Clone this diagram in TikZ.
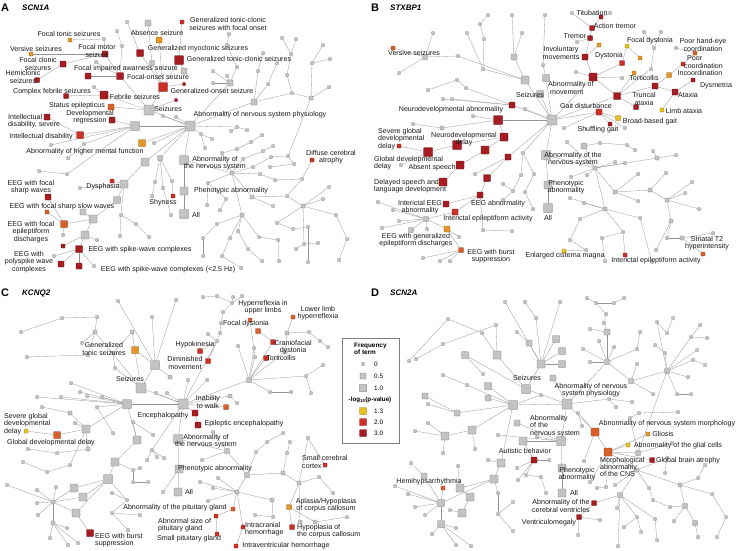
\documentclass[tikz,border=0pt]{standalone}
\usepackage{fontspec}
\setmainfont{Liberation Sans}
\usetikzlibrary{backgrounds}
\definecolor{cg}{HTML}{C3C3C3}
\definecolor{cy}{HTML}{E8C021}
\definecolor{co}{HTML}{E3962A}
\definecolor{cp}{HTML}{D8602A}
\definecolor{cr}{HTML}{CC3027}
\definecolor{cd}{HTML}{A51D23}
\begin{document}
\begin{tikzpicture}[x=1pt,y=-1pt,
  nd/.style 2 args={rectangle,rounded corners=0.5pt,inner sep=0pt,minimum size=#2pt,fill=#1,draw=#1!60!black,line width=0.3pt},
  ed/.style={draw=black!42,line width=0.3pt},
  lb/.style={font=\fontsize{7.1}{7.4}\selectfont,inner sep=0pt,align=center,text=black!90},
  lbl/.style={lb,align=left,anchor=west},
  ttl/.style={font=\fontsize{11}{11}\selectfont\bfseries,inner sep=0pt},
  gene/.style={font=\fontsize{8}{8}\selectfont\bfseries\itshape,inner sep=0pt,anchor=west},
  lg/.style={font=\fontsize{6.4}{7.2}\selectfont,inner sep=0pt}]
\useasboundingbox (0,0) rectangle (740,550);

% ---------------- titles
\node[ttl] (tA) at (5,8) {A};   \node[gene] (gA) at (22,8) {SCN1A};
\node[ttl] (tB) at (375,8) {B}; \node[gene] (gB) at (390,8) {STXBP1};
\node[ttl] (tC) at (5,293) {C}; \node[gene] (gC) at (22,293) {KCNQ2};
\node[ttl] (tD) at (375,293) {D}; \node[gene] (gD) at (390,293) {SCN2A};

% ---------------- panel A nodes
\foreach \n/\x/\y/\c/\s in {
aR1/182/22/cr/4, aO1/159/40/co/6, aO2/70/40/co/4, aO3/31/54/co/4, aD1/105/54/cd/6, aD2/140/53/cd/7,
aD3/179/60/cd/9, aD4/63/64/cd/6, aD5/37/80/cd/5, aD6/88/76/cd/6, aD7/120/76/cd/7, aD8/184/84/cd/3,
aR2/163/87/cr/9, aD9/66/96/cd/5, aD10/104/95/cd/8, aD11/176/100/cd/3, aP1/111/107/cp/6, aD12/47/117/cd/6,
aD13/112/120/cd/6, aR3/80/135/cr/7, aP2/142/143/co/7, aR4/112/181/cr/4, aD14/48/197/cd/6, aP3/47/212/cp/4,
aP4/64/224/cp/7, aR5/173/196/cr/4, aR6/312/160/cr/4, aD15/63/246/cd/4, aD16/79/249/cd/7, aD17/61/264/cd/6,
aD18/79/266/cd/6,
a1/127/22/cg/3, a2/148/23/cg/6, a3/117/31/cg/3, a4/104/39/cg/3, a5/122/46/cg/3, a6/229/34/cg/3,
a7/227/45/cg/3, a8/152/63/cg/5, a9/96/62/cg/3, a10/184/71/cg/6, a11/94/87/cg/3, aS/149/110/cg/10,
a12/163/116/cg/3, a13/176/117/cg/3, a14/135/126/cg/9, aH/190/126/cg/10, a16/282/38/cg/3, a17/296/39/cg/3,
a18/291/54/cg/3, a19/323/45/cg/3, a20/330/59/cg/3, a21/312/63/cg/3, a22/277/63/cg/3, a23/287/75/cg/3,
a24/263/53/cg/3, a25/258/71/cg/3, a26/237/67/cg/3, a27/227/76/cg/3, a28/230/83/cg/6, a29/213/71/cg/3,
a30/213/83/cg/3, a31/268/84/cg/3, a32/254/102/cg/6, a33/292/93/cg/3, a34/311/98/cg/4, a35/329/87/cg/3,
a36/237/127/cg/3, a37/231/131/cg/3, a38/247/130/cg/3, a39/262/135/cg/3, a40/201/134/cg/3, a41/212/139/cg/3,
a42/205/148/cg/3, a43/251/142/cg/3, a44/237/149/cg/3, a45/222/153/cg/3, a46/263/151/cg/3, a47/273/146/cg/3,
aN/184/160/cg/9, a48/243/159/cg/3, a49/253/167/cg/3, a50/271/157/cg/3, a51/270/167/cg/3, a52/288/156/cg/3,
a53/294/164/cg/3, a54/232/173/cg/4, a55/260/174/cg/3, a56/275/180/cg/3, a57/302/179/cg/3, a58/208/183/cg/3,
a59/226/199/cg/3, a60/220/210/cg/3, a61/207/205/cg/3, a62/252/197/cg/4, a63/273/206/cg/3, a64/287/196/cg/3,
a65/303/206/cg/4, a66/323/199/cg/3, a67/329/187/cg/3, a68/242/215/cg/4, a69/277/223/cg/3, a70/293/229/cg/3,
a71/308/227/cg/3, a72/217/224/cg/3, a73/203/238/cg/3, a74/203/256/cg/3, a75/222/256/cg/3, a76/230/238/cg/3,
a77/238/231/cg/3, a78/248/249/cg/3, a79/259/237/cg/3, a80/262/261/cg/3, a81/278/240/cg/3, a82/279/261/cg/3,
a83/296/249/cg/3, a84/304/244/cg/3, a85/318/243/cg/3, a86/308/262/cg/3, a87/336/215/cg/3, a88/347/239/cg/3,
a89/339/260/cg/3, a90/241/268/cg/3, aP/184/191/cg/8, aA/184/214/cg/9,
a91/51/145/cg/3, a92/84/144/cg/3, a93/154/143/cg/3, a94/68/158/cg/3, a95/39/171/cg/3, a96/67/174/cg/3,
a97/80/188/cg/3, a98/145/162/cg/8, a99/160/158/cg/5, a100/155/182/cg/3, a101/163/188/cg/3, a102/172/181/cg/3,
a103/152/196/cg/3, a104/171/215/cg/3, a105/124/184/cg/8, a106/117/200/cg/7, a107/83/212/cg/6, a108/93/219/cg/8,
a109/121/215/cg/3, a110/136/224/cg/3, a111/149/237/cg/3, a112/120/236/cg/3, a113/85/235/cg/8, a114/54/256/cg/3,
a115/97/240/cg/3, a116/94/266/cg/3, a117/63/235/cg/3}
  \node[nd={\c}{\s}] (\n) at (\x,\y) {};

% ---------------- panel B nodes
\foreach \n/\x/\y/\c/\s in {
bR1/601/17/cd/4, bD1/592/28/cd/5, bD2/590/38/cd/5, bO1/599/45/co/4, bD3/585/57/cd/6, bD4/622/63/cr/5,
bY1/627/46/cy/4, bO2/640/58/co/4, bO3/695/53/cp/4, bR2/683/64/cr/4, bO4/669/75/co/5, bO5/634/73/co/4,
bD5/593/77/cd/8, bD6/693/80/cd/4, bD7/655/86/cd/6, bD8/675/92/cd/6, bD9/636/107/cd/5, bD10/617/96/cd/7,
bY2/662/110/cy/4, bD11/512/105/cd/6, bD12/498/120/cd/9, bR3/599/112/cr/6, bY3/618/118/cy/5, bR4/610/124/cd/4,
bO6/393/48/cp/4, bR5/399/146/cr/4, bD13/504/137/cd/8, bD14/428/152/cd/9, bD15/457/145/cd/9, bD16/485/150/cd/8,
bD17/460/165/cd/8, bD18/443/182/cd/8, bD19/508/157/cd/6, bD20/487/178/cd/7, bD21/480/195/cd/6, bD22/446/204/cd/6,
bR6/455/212/cr/6, bO7/447/229/co/6, bP1/461/250/cp/5, bY4/564/251/cy/4, bR7/625/255/cr/4, bO8/703/254/cp/4,
bH/552/120/cg/10, bN/546/155/cg/9, bP/548/185/cg/8, bA/548/208/cg/9,
b1/488/15/cg/3, b2/512/15/cg/3, b3/545/15/cg/3, b4/480/24/cg/3, b5/467/33/cg/3, b6/433/33/cg/3,
b7/522/33/cg/3, b8/484/39/cg/3, b9/458/56/cg/3, b10/425/57/cg/5, b11/399/73/cg/3, b12/483/69/cg/3,
b13/514/57/cg/6, b14/543/65/cg/3, b15/525/80/cg/8, b16/546/78/cg/7, b17/540/94/cg/7, b18/428/90/cg/3,
b19/457/80/cg/3, b20/466/88/cg/3, b21/443/99/cg/3, b22/452/99/cg/3, b23/473/116/cg/3, b24/525/109/cg/3,
b25/413/124/cg/3, b26/442/128/cg/4, b27/572/13/cg/3, b28/610/13/cg/3, b29/577/42/cg/3, b30/576/72/cg/3,
b31/622/78/cg/3, b32/644/32/cg/3, b33/661/32/cg/3, b34/654/48/cg/3, b35/651/69/cg/3, b36/676/48/cg/3,
b37/564/128/cg/3, b38/625/128/cg/3, b39/523/153/cg/3, b40/521/175/cg/3, b41/534/174/cg/3, b42/525/192/cg/3,
b43/513/191/cg/3, b44/503/184/cg/3, b45/503/200/cg/3, b46/533/209/cg/3, b47/475/174/cg/3, b48/567/142/cg/3,
b49/584/146/cg/6, b50/600/143/cg/3, b51/627/145/cg/3, b52/635/150/cg/3, b53/615/162/cg/3, b54/625/163/cg/3,
b55/653/151/cg/3, b56/657/158/cg/4, b57/676/155/cg/3, b58/595/168/cg/4, b59/571/177/cg/3, b60/587/175/cg/3,
b61/570/198/cg/3, b62/584/203/cg/3, b63/615/192/cg/4, b64/605/209/cg/4, b65/638/201/cg/3, b66/638/174/cg/3,
b67/650/190/cg/4, b68/666/173/cg/3, b69/667/200/cg/4, b70/692/182/cg/3, b71/685/193/cg/3, b72/699/209/cg/3,
b73/671/221/cg/4, b74/640/218/cg/3, b75/580/219/cg/3, b76/623/232/cg/3, b77/602/238/cg/3, b78/586/250/cg/3,
b79/570/240/cg/3, b80/656/250/cg/3, b81/667/238/cg/3, b82/682/238/cg/4, b83/713/233/cg/3, b84/652/262/cg/3,
b85/605/261/cg/3, b86/378/202/cg/3, b87/393/210/cg/3, b88/382/228/cg/3, b89/399/221/cg/3, b90/411/230/cg/5,
b91/426/219/cg/5, b92/427/229/cg/3, b93/459/237/cg/3, b94/423/258/cg/3, b95/440/261/cg/3, b96/450/261/cg/3,
b97/483/230/cg/3, b98/512/231/cg/3, b99/401/165/cg/3}
  \node[nd={\c}{\s}] (\n) at (\x,\y) {};

% ---------------- panel C nodes
\foreach \n/\x/\y/\c/\s in {
cO1/293/317/cp/4, cR1/250/320/cp/4, cP1/258/331/cp/5, cR2/273/342/cr/5, cO2/135/350/co/7, cR3/200/351/cr/5,
cR4/208/361/cr/5, cR5/266/358/cr/5, cO3/226/407/cp/5, cD1/195/413/cd/6, cD2/198/425/cd/6, cY1/26/431/cy/4,
cO4/57/435/cp/7, cP2/233/509/cp/4, cR6/216/516/cr/4, cR7/217/534/cr/4, cD3/90/533/cd/7, cR8/325/465/cr/4,
cP3/289/507/co/5, cR9/292/527/cr/5, cR10/243/527/cr/4, cR11/236/546/cr/4,
cS/141/388/cg/10, cH/183/404/cg/10, cX/127/404/cg/9, cN/178/439/cg/9, cP/179/469/cg/8, cA/178/492/cg/8,
c1/118/301/cg/3, c2/152/317/cg/3, c3/176/300/cg/3, c4/203/297/cg/3, c5/217/296/cg/3, c6/233/297/cg/3,
c7/242/296/cg/3, c8/232/303/cg/3, c9/223/312/cg/3, c10/221/323/cg/3, c11/220/333/cg/3, c12/208/334/cg/3,
c13/217/341/cg/3, c14/97/317/cg/3, c15/62/318/cg/3, c16/21/332/cg/3, c17/95/332/cg/4, c18/132/332/cg/4,
c19/113/353/cg/3, c20/27/357/cg/3, c21/82/343/cg/3, c22/88/355/cg/3, c23/115/368/cg/3, c24/155/365/cg/9,
c25/170/377/cg/4, c26/238/346/cg/3, c27/254/348/cg/3, c28/255/357/cg/3, c29/287/333/cg/4, c30/309/332/cg/3,
c31/320/341/cg/3, c32/328/347/cg/3, c33/285/352/cg/4, c34/249/380/cg/5, c35/207/380/cg/3, c36/188/380/cg/3,
c37/156/393/cg/3, c38/167/393/cg/3, c39/230/396/cg/4, c40/237/403/cg/3, c41/270/392/cg/3, c42/291/392/cg/3,
c43/306/376/cg/3, c44/323/365/cg/3, c45/311/393/cg/3, c46/71/383/cg/3, c47/80/392/cg/3, c48/87/396/cg/3,
c49/102/397/cg/3, c50/61/397/cg/3, c51/37/397/cg/3, c52/42/407/cg/3, c53/70/413/cg/4, c54/75/423/cg/3,
c55/86/429/cg/8, c56/97/407/cg/3, c57/113/433/cg/3, c58/133/422/cg/3, c59/137/440/cg/8, c60/153/435/cg/3,
c61/152/450/cg/3, c62/157/457/cg/3, c63/147/460/cg/3, c64/164/458/cg/3, c65/140/468/cg/3, c66/115/462/cg/8,
c67/108/479/cg/9, c68/133/470/cg/3, c69/133/482/cg/3, c70/148/482/cg/3, c71/163/492/cg/3, c72/127/500/cg/3,
c73/112/493/cg/3, c74/112/513/cg/3, c75/128/530/cg/3, c76/140/515/cg/3, c77/74/488/cg/8, c78/83/497/cg/8,
c79/76/513/cg/8, c80/53/502/cg/4, c81/37/490/cg/3, c82/7/485/cg/3, c83/56/487/cg/3, c84/37/503/cg/3,
c85/38/515/cg/3, c86/53/523/cg/4, c87/67/528/cg/3, c88/50/538/cg/3, c89/68/545/cg/3, c90/78/543/cg/3,
c91/28/449/cg/3, c92/57/453/cg/3, c93/88/449/cg/4, c94/70/465/cg/3, c95/47/472/cg/3, c96/23/462/cg/3,
c97/213/432/cg/3, c98/227/451/cg/5, c99/202/460/cg/3, c100/200/482/cg/3, c101/213/488/cg/3, c102/218/478/cg/3,
c103/247/475/cg/5, c104/237/492/cg/4, c105/256/452/cg/3, c106/267/442/cg/3, c107/283/433/cg/3, c108/290/442/cg/3,
c109/287/453/cg/3, c110/283/473/cg/4, c111/299/483/cg/4, c112/308/438/cg/3, c113/319/477/cg/3, c114/333/493/cg/3,
c115/347/517/cg/3, c116/315/522/cg/4, c117/300/522/cg/4, c118/272/500/cg/4, c119/273/517/cg/3, c120/255/515/cg/3,
c121/208/501/cg/3}
  \node[nd={\c}{\s}] (\n) at (\x,\y) {};

% ---------------- panel D nodes
\foreach \n/\x/\y/\c/\s in {
dO1/443/488/cp/4, dD1/534/460/cd/6, dP1/595/432/cp/8, dO2/648/434/co/4, dY1/628/445/cy/4, dP2/608/452/cp/8,
dD2/652/460/cd/5, dD3/594/503/cd/5, dD4/579/517/cd/5,
dS/526/389/cg/9, dH/567/404/cg/10, dN/561/441/cg/9, dP/562/468/cg/8, dA/562/493/cg/8,
d1/409/361/cg/3, d2/448/319/cg/3, d3/482/333/cg/3, d4/496/325/cg/3, d5/505/302/cg/3, d6/525/302/cg/3,
d7/560/302/cg/3, d8/536/318/cg/3, d9/517/332/cg/3, d10/529/343/cg/6, d11/556/339/cg/7, d12/562/351/cg/7,
d13/562/364/cg/7, d14/553/378/cg/6, d15/497/355/cg/8, d16/465/355/cg/7, d17/483/374/cg/3, d18/443/344/cg/3,
d19/416/359/cg/3, d20/443/375/cg/3, d21/467/385/cg/3, d22/488/386/cg/7, d23/425/396/cg/6, d24/488/398/cg/6,
d25/541/395/cg/3, d26/583/349/cg/3, d27/590/362/cg/3, d28/599/341/cg/3, d29/590/329/cg/3, d30/607/332/cg/6,
d31/604/323/cg/3, d32/606/314/cg/3, d33/587/298/cg/3, d34/596/303/cg/3, d35/614/303/cg/3, d36/624/298/cg/3,
d37/614/347/cg/3, d38/637/349/cg/3, d39/640/332/cg/3, d40/655/345/cg/3, d41/607/362/cg/5, d42/631/381/cg/5,
d43/637/364/cg/3, d44/667/371/cg/5, d45/688/377/cg/3, d46/657/322/cg/3, d47/667/333/cg/3, d48/673/318/cg/3,
d49/691/337/cg/3, d50/700/325/cg/3, d51/707/338/cg/3, d52/697/350/cg/3, d53/693/360/cg/3, d54/705/365/cg/3,
d55/665/353/cg/3, d56/653/394/cg/3, d57/677/394/cg/3, d58/691/394/cg/3, d59/609/399/cg/3, d60/616/407/cg/3,
d61/632/402/cg/3, d62/513/405/cg/9, d63/457/413/cg/6, d64/428/404/cg/3, d65/428/423/cg/3, d66/415/431/cg/3,
d67/445/436/cg/8, d68/472/430/cg/8, d69/475/449/cg/3, d70/443/453/cg/3, d71/488/460/cg/3, d72/501/463/cg/8,
d73/517/423/cg/6, d74/498/435/cg/3, d75/523/441/cg/8, d76/537/437/cg/3, d77/424/476/cg/6, d78/411/463/cg/3,
d79/458/466/cg/3, d80/494/479/cg/8, d81/460/488/cg/8, d82/470/497/cg/8, d83/441/503/cg/7, d84/395/486/cg/3,
d85/408/494/cg/3, d86/415/507/cg/3, d87/425/515/cg/3, d88/441/524/cg/7, d89/432/534/cg/3, d90/456/528/cg/3,
d91/456/545/cg/3, d92/471/546/cg/3, d93/462/513/cg/8, d94/450/510/cg/3, d95/498/493/cg/3, d96/498/514/cg/3,
d97/513/502/cg/3, d98/513/531/cg/3, d99/518/480/cg/3, d100/517/468/cg/3, d101/526/475/cg/3, d102/541/477/cg/3,
d103/549/460/cg/3, d104/546/493/cg/3, d105/578/413/cg/3, d106/582/426/cg/3, d107/584/461/cg/3, d108/597/488/cg/3,
d109/590/482/cg/3, d110/606/487/cg/3, d111/615/485/cg/3, d112/620/495/cg/5, d113/617/508/cg/3, d114/600/520/cg/3,
d115/578/535/cg/3, d116/637/517/cg/3, d117/624/527/cg/3, d118/655/519/cg/3, d119/657/540/cg/3, d120/641/532/cg/3,
d121/618/546/cg/3, d122/637/470/cg/4, d123/638/453/cg/5, d124/649/488/cg/3, d125/653/500/cg/3, d126/670/507/cg/3,
d127/674/521/cg/3, d128/685/506/cg/5, d129/680/485/cg/4, d130/695/523/cg/5, d131/698/537/cg/3, d132/712/494/cg/3,
d133/726/517/cg/3, d134/717/537/cg/3, d135/698/478/cg/3, d136/705/465/cg/3, d137/667/458/cg/3, d138/665/473/cg/3,
d139/672/443/cg/3, d141/639/413/cg/3, d142/678/412/cg/3, d143/630/418/cg/3, d144/541/364/cg/8}
  \node[nd={\c}{\s}] (\n) at (\x,\y) {};

% ---------------- edges
\begin{scope}[on background layer]
\foreach \u/\v in {
aR1/aD3, a1/aD2, a2/a8, a8/aR2, aO1/aR2, aD2/aR2, aD3/aR2, a10/aD3, aD8/aR2, aR2/aS, aO2/a4, a4/aD1, a3/a5,
a5/aD7, aD1/aD7, aO3/aD1, aD4/aD1, aD5/aD4, aD6/aD7, a9/aD7, aD7/aS, aD9/aD10, a11/aD10, aD10/aS, aP1/aS,
aD11/aS, aS/aH, aD12/aR3, aR3/a14, aD13/a14, a14/aH, aP2/aH, a12/aH, a13/aH, a91/a14, a92/a14, a94/a92,
a95/a96, a96/a14, aH/aN, aN/aP, aP/aA, aH/a98, aH/a99, a99/a100, a99/a101, a99/a102, a102/aR5, a100/a103,
a101/a104, a98/a105, aR4/a105, a97/a105, a105/a106, a106/a108, a107/a108, a108/aP4, aP4/aD14, aP4/aP3,
aP4/a117, a108/a113, a113/aD16, aD15/a113, aD16/aD17, aD16/aD18, aD16/a116, aD16/a114, a105/a109, a109/a110,
a109/a112, a110/a111, a113/a115, a93/aH,
aH/a28, a28/a26, a28/a27, a28/a29, a28/a30, a26/a7, a7/a6, aH/a32, a32/a25, a25/a24, a32/a31, a31/a22,
a32/a33, a33/a34, a34/a35, a33/a23, a23/a18, a18/a17, a18/a16, a34/a21, a21/a19, a21/a20,
aH/a36, a36/a37, a36/a38, aH/a40, a40/a41, a40/a42, a45/a44, a44/a43, a43/a39, a48/a46, a46/a47,
aN/a54, a54/a48, a54/a49, a49/a50, a50/a52, a34/a52, a52/a53, a53/a51, a54/a55, a55/a56, a56/a57, aR6/a57,
a57/a64, a54/a58, a58/a59, a58/a61, a59/a60, a54/a62, a62/a63, a62/a64, a64/a65, a65/a66, a65/a67, a54/a68,
a68/a72, a72/a73, a73/a74, a68/a76, a76/a75, a68/a77, a77/a78, a78/a80, a68/a79, a79/a81, a81/a82, a65/a69,
a69/a70, a70/a71, a71/a86, a65/a84, a84/a83, a84/a85, a65/a87, a87/a88, a88/a89, a75/a90, a54/a45,
bH/bD11, bH/bD12, bH/bD5, bH/bN, bN/bP, bP/bA, bH/b17, bH/b16, bH/b15, b1/b4, b4/b8, b8/b12, b12/b15, b5/b12,
b2/b13, b7/b13, b3/b14, b13/b15, b14/b16, b6/b10, bO6/b10, b10/b9, b11/b10, b9/b15, b18/b19, b19/b20,
b20/bD11, b21/bD11, b22/bD11, b23/bD12, b24/bH, b25/b26, b26/bD12, bD12/bD13, bD13/bD15, bD15/bD14,
bD14/bR5, bD13/bD16, bD16/bD17, bD17/bD18, b99/bD14, bH/bD19, bD19/bD20, bD20/bD21, bD21/bD22, bD21/bR6,
bR6/b91, bD21/b97, b91/bO7, b91/b86, b91/b87, b91/b88, b91/b89, b91/b90, b91/b92, bO7/b93, bO7/bP1,
bP1/b94, bP1/b95, bP1/b96, b97/b98, bD19/b47,
bH/bR3, bR3/bY3, bR3/bR4, bR3/b37, bR3/b38,
bD5/bD3, bD3/bD2, bD2/bD1, bD1/bR1, bR1/b28, bD1/b27, bD2/b29, bD3/bO1, bD5/bD4, bD4/bY1, bY1/bO2,
bD5/b30, bD5/b31, bD5/bD10, bD10/bO5, bD10/bD7, bD7/bO4, bO4/bR2, bR2/bO3, bO3/b36, bD7/bD8, bD8/bD6,
bD8/bY2, bD10/bD9, b32/b34, b33/b34, b34/b35, b35/bD10, bH/bD10,
bN/b58, b58/b48, b58/b49, b49/b50, b50/b51, b51/b52, b58/b53, b58/b54, b58/b59, b58/b60, b58/b63, b58/b64,
b58/b56, b56/b55, b56/b57, b63/b65, b63/b66, b63/b67, b67/b68, b67/b69, b69/b70, b69/b71, b69/b72, b69/b73,
b73/b81, b81/b82, b82/b83, b82/bO8, b73/b80, b64/b61, b64/b62, b64/b75, b64/b74, b64/b76, b76/bR7, b76/b77,
b75/b79, b79/b78, b78/bY4, b77/b85, b74/b84, bH/b39, b39/b40, b39/b41, b40/b43, b41/b42, b43/b44, b43/b45,
b42/b46,
cH/cS, cS/c24, c24/cO2, c24/c1, c24/c2, c24/c3, cS/c17, c17/c21, c17/c14, c14/c15, c15/c16, cS/c18,
c18/c19, c19/c23, c23/cS, c20/c22, c22/c17, c24/c25,
cH/cX, cX/c46, cX/c47, cX/c48, cX/c49, cX/c50, cX/c51, cX/c55, c55/cO4, cO4/cY1, c55/c54, c55/c53,
c53/c52, c55/c93, c93/c92, c92/c91, c55/c94, c94/c95, c95/c96, cX/c56, c56/c57, cX/c59, c59/c58, c58/c60,
c59/c66, c66/c67, c67/c77, c67/c78, c78/c80, c77/c80, c79/c80, c80/c81, c80/c82, c80/c83, c80/c84,
c80/c85, c80/c86, c86/c87, c86/c88, c86/c89, c86/c90, c79/cD3, c67/c79,
cH/cN, cN/cP, cP/cA, cH/c61, c61/c62, c61/c63, c61/c64, c65/c68, c68/c69, c69/c70, c66/c68, c71/cP,
c72/c73, c72/c74, c74/c75, c74/c76, c67/c72,
cH/cD1, cD1/cD2, cH/cO3, cH/c39, c39/c40, cH/c34, c34/c26, c34/c27, c34/c28, c28/cR1, c34/c33, c33/c29,
c29/cO1, c29/c30, c30/c31, c31/c32, c34/c41, c41/c42, c34/c43, c43/c44, c43/c45, c34/cR5, c34/cR2,
cR2/cP1,
cH/c13, c13/cR4, c13/cR3, c13/c12, c13/c11, c11/c10, c10/c9, c9/c8, c8/c6, c8/c7, c8/c5, c5/c4,
cH/c36, cH/c35, cH/c37, cH/c38,
cN/c98, c98/c97, c98/c99, c98/c103, c103/c105, c105/c106, c106/c107, c103/c110, c110/c111, c111/c113,
c113/c114, c111/c112, c112/cR8, c110/c109, c109/c108, c103/c104, c104/c100, c104/c101, c104/c102,
c104/c121, c104/c118, c118/c119, c119/c120, c104/cP2, cP2/cR6, cR6/cR7, c104/cR10, cR10/cR11, c111/cP3,
cP3/cR9, cP3/c116, c116/c115, c111/c117,
dH/dS, dH/dN, dN/dP, dP/dA, dS/d144, d5/d144, d6/d8, d8/d144, d7/d144, d11/d144, d12/d144, d13/d144,
d14/dH, d9/d10, d10/d144,
d1/d2, d2/d3, d3/d15, d15/dS, d19/d18, d18/d4, d4/d15, d16/dS, d17/d16,
dH/d62, d62/d22, d62/d24, d62/d21, d21/d20, d62/d63, d63/d23, d62/d25, d62/d68, d68/d67, d67/d65,
d67/d66, d67/d70, d68/d69, d62/d72, d72/d71, d72/d80, d80/d81, d81/d82, d82/d93, d93/d94, d80/d83,
d83/d84, d83/d85, d83/d86, d83/d87, d83/dO1, d83/d77, d83/d88, d88/d89, d88/d90, d88/d91, d88/d92,
d80/d95, d95/d96, d96/d97, d96/d98, d63/d64, d77/d78, d81/d79,
dN/d73, dN/d74, dN/d75, dN/d76, d75/dD1, dD1/d99, dD1/d100, dD1/d101, d101/d102, dD1/d103, d102/d104,
dH/dP1, dP1/dP2, dP2/dY1, dP2/dO2, dP2/dD2, dP2/d123, dP1/d105, d105/d106, dP1/d107, dP2/d109,
dP2/d110, d110/d108, d122/d111, dP2/d122, d122/d112, d112/dD3, dD3/dD4, dD4/d115, dD4/d114, d112/d113,
d112/d116, d116/d117, d116/d120, d112/d118, d118/d119, d112/d121, d122/d124, d124/d125, d125/d126,
d122/d137, d137/d138, d122/d129, d129/d128, d128/d126, d128/d127, d128/d130, d130/d131, d129/d135,
d135/d136, d129/d132, d132/d133, d133/d134, d123/d139,
dH/d41, d41/d26, d41/d27, d41/d28, d41/d30, d30/d29, d30/d31, d31/d32, d32/d34, d34/d33, d34/d35,
d35/d36, d41/d37, d41/d38, d38/d39, d41/d42, d42/d43, d42/d44, d44/d45, d44/d55, d55/d40, d44/d46,
d46/d47, d47/d48, d44/d49, d49/d50, d49/d51, d44/d52, d44/d53, d53/d54, d42/d56, d44/d57, d57/d58,
dH/d59, d59/d60, d59/d61, d44/d123, d123/d143, d143/d141, d141/d142}
  \draw[ed] (\u) -- (\v);
\end{scope}

% ---------------- labels A
\node[lb] (la1) at (228,24) {Generalized tonic-clonic\\seizures with focal onset};
\node[lb] (la2) at (157,33) {Absence seizure};
\node[lb] (la3) at (69,34) {Focal tonic seizures};
\node[lb] (la4) at (36,49) {Versive seizures};
\node[lb] (la5) at (97,51) {Focal motor\\seizure};
\node[lb] (la6) at (198,49) {Generalized myoclonic seizures};
\node[lb] (la7) at (239,59) {Generalized tonic-clonic seizures};
\node[lb] (la8) at (38,64) {Focal clonic\\seizures};
\node[lb] (la9) at (23,77) {Hemiclonic\\seizures};
\node[lb] (la10) at (126,69) {Focal impaired awarness seizure};
\node[lb] (la11) at (158,77) {Focal-onset seizure};
\node[lb] (la12) at (212,91) {Generalized-onset seizure};
\node[lb] (la13) at (52,92) {Complex febrile seizures};
\node[lb] (la14) at (135,97) {Febrile seizures};
\node[lb] (la15) at (77,106) {Status epilepticus};
\node[lb] (la16) at (168,109) {Seizures};
\node[lb] (la17) at (90,117) {Developmental\\regression};
\node[lbl] (la18) at (8,121) {Intellectual\\disability, severe};
\node[lb] (la19) at (260,115) {Abnormality of nervous system physiology};
\node[lb] (la20) at (41,137) {Intellectual disability};
\node[lb] (la21) at (85,152) {Abnormality of higher mental function};
\node[lb] (la22) at (215,163) {Abnormality of\\the nervous system};
\node[lb] (la23) at (331,157) {Diffuse cerebral\\atrophy};
\node[lb] (la24) at (103,187) {Dysphasia};
\node[lb] (la25) at (31,187) {EEG with focal\\sharp waves};
\node[lb] (la26) at (231,191) {Phenotypic abnormality};
\node[lb] (la27) at (163,203) {Shyness};
\node[lb] (la28) at (62,207) {EEG with focal sharp slow waves};
\node[lb] (la29) at (196,215) {All};
\node[lb] (la30) at (31,232) {EEG with focal\\epileptiform\\discharges};
\node[lb] (la31) at (140,250) {EEG with spike-wave complexes};
\node[lb] (la32) at (29,262) {EEG with\\polyspike wave\\complexes};
\node[lb] (la33) at (168,270) {EEG with spike-wave complexes (<2.5 Hz)};

% ---------------- labels B
\node[lb] (lb1) at (592,13) {Titubation};
\node[lb] (lb2) at (615,26) {Action tremor};
\node[lb] (lb3) at (575,36) {Tremor};
\node[lb] (lb4) at (650,41) {Focal dystonia};
\node[lb] (lb5) at (703,45) {Poor hand-eye\\coordination};
\node[lb] (lb6) at (561,53) {Involuntary\\movements};
\node[lb] (lb7) at (609,56) {Dystonia};
\node[lbl] (lb8) at (684,62) {\hspace*{3pt}Poor\\coordination};
\node[lb] (lb9) at (700,73) {Incoordination};
\node[lb] (lb10) at (644,78) {Torticollis};
\node[lbl] (lb11) at (548,88) {Abnormality of\\\hspace*{2pt}movement};
\node[lb] (lb12) at (716,86) {Dysmetria};
\node[lb] (lb13) at (530,95) {Seizures};
\node[lb] (lb14) at (644,99) {Truncal\\ataxia};
\node[lb] (lb15) at (688,95) {Ataxia};
\node[lb] (lb16) at (451,110) {Neurodevelopmental abnormality};
\node[lb] (lb17) at (586,106) {Gait disturbance};
\node[lb] (lb18) at (684,111) {Limb ataxia};
\node[lb] (lb19) at (650,122) {Broad-based gait};
\node[lb] (lb20) at (598,130) {Shuffling gait};
\node[lbl] (lb21) at (378,139) {Severe global\\developmental\\delay};
\node[lb] (lb22) at (464,139) {Neurodevelopmental\\delay};
\node[lbl] (lb23) at (374,163) {Global developmental\\delay};
\node[lb] (lb24) at (432,168) {Absent speech};
\node[lbl] (lb25) at (374,186) {Delayed speech and\\language development};
\node[lb] (lb26) at (573,159) {Abnormality of the\\nervous system};
\node[lb] (lb27) at (566,187) {Phenotypic\\abnormality};
\node[lb] (lb28) at (548,218) {All};
\node[lb] (lb29) at (420,207) {Interictal EEG\\abnormality};
\node[lb] (lb30) at (498,204) {EEG abnormality};
\node[lb] (lb31) at (488,219) {Interictal epileptiform activity};
\node[lb] (lb32) at (416,240) {EEG with generalized\\epileptiform discharges};
\node[lb] (lb33) at (491,256) {EEG with burst\\suppression};
\node[lb] (lb34) at (565,256) {Enlarged cisterna magna};
\node[lb] (lb35) at (656,261) {Interictal epileptiform activity};
\node[lb] (lb36) at (707,243) {Striatal T2\\hyperintensity};
\node[lb] (lb37) at (414,53) {Versive seizures};

% ---------------- labels C
\node[lb] (lc1) at (263,307) {Hyperreflexia in\\upper limbs};
\node[lb] (lc2) at (318,313) {Lower limb\\hyperreflexia};
\node[lb] (lc3) at (246,324) {Focal dystonia};
\node[lb] (lc4) at (104,349) {Generalized\\tonic seizures};
\node[lb] (lc5) at (195,345) {Hypokinesia};
\node[lb] (lc6) at (293,347) {Craniofacial\\dystonia};
\node[lb] (lc7) at (185,363) {Diminished\\movement};
\node[lb] (lc8) at (281,358) {Torticollis};
\node[lb] (lc9) at (130,379) {Seizures};
\node[lb] (lc10) at (208,402) {Inability\\to walk};
\node[lb] (lc11) at (163,416) {Encephalopathy};
\node[lb] (lc12) at (244,424) {Epileptic encephalopathy};
\node[lbl] (lc13) at (4,424) {Severe global\\developmental\\delay};
\node[lb] (lc14) at (51,443) {Global developmental delay};
\node[lb] (lc15) at (206,441) {Abnormality of\\the nervous system};
\node[lb] (lc16) at (215,469) {Phenotypic abnormality};
\node[lbl] (lc17) at (302,462) {Small cerebral\\cortex};
\node[lb] (lc18) at (189,492) {All};
\node[lb] (lc19) at (175,508) {Abnormality of the pituitary gland};
\node[lb] (lc20) at (326,505) {Aplasia/Hypoplasia\\of corpus callosum};
\node[lbl] (lc21) at (158,525) {Abnormal size of\\pituitary gland};
\node[lbl] (lc22) at (245,529) {Intracranial\\hemorrhage};
\node[lbl] (lc23) at (297,531) {Hypoplasia of\\the corpus callosum};
\node[lbl] (lc24) at (95,540) {EEG with burst\\suppression};
\node[lb] (lc25) at (189,539) {Small pituitary gland};
\node[lb] (lc26) at (286,546) {Intraventricular hemorrhage};

% ---------------- labels D
\node[lb] (ld1) at (527,378) {Seizures};
\node[lb] (ld2) at (591,390) {Abnormality of nervous\\system physiology};
\node[lbl] (ld3) at (530,426) {Abnormality\\of the\\nervous system};
\node[lb] (ld4) at (667,424) {Abnormality of nervous system morphology};
\node[lb] (ld5) at (663,434) {Gliosis};
\node[lb] (ld6) at (678,446) {Abnormality of the glial cells};
\node[lb] (ld7) at (525,451) {Autistic behavior};
\node[lbl] (ld8) at (600,467) {Morphological\\abnormality\\of the CNS};
\node[lb] (ld9) at (688,461) {Global brain atrophy};
\node[lb] (ld10) at (577,474) {Phenotypic\\abnormality};
\node[lb] (ld11) at (574,493) {All};
\node[lb] (ld12) at (429,482) {Hemihypsarrhythmia};
\node[lb] (ld13) at (561,506) {Abnormality of the\\cerebral ventricles};
\node[lb] (ld14) at (549,523) {Ventriculomegaly};

% ---------------- legend
\node[draw=black!50,line width=0.4pt,fill=white,minimum width=57pt,minimum height=105pt,inner sep=0pt] (leg) at (370.5,390.5) {};
\node[lg,font=\fontsize{6.4}{7.2}\selectfont\bfseries,align=left,anchor=west] (lg1) at (354,349) {Frequency\\of term};
\node[nd={cg}{3}] (lq1) at (363,364) {};
\node[nd={cg}{6}] (lq2) at (363,376) {};
\node[nd={cg}{7.5}] (lq3) at (363,388) {};
\node[lg,anchor=west] (lt1) at (374,364) {0};
\node[lg,anchor=west] (lt2) at (374,376) {0.5};
\node[lg,anchor=west] (lt3) at (374,388) {1.0};
\node[lg,font=\fontsize{6.2}{7}\selectfont\bfseries] (lg2) at (370,400) {-log\textsubscript{10}(p-value)};
\node[nd={cy}{7}] (lq4) at (363,411) {};
\node[nd={cr}{7}] (lq5) at (363,422) {};
\node[nd={cd}{7}] (lq6) at (363,433) {};
\node[lg,anchor=west] (lt4) at (374,411) {1.3};
\node[lg,anchor=west] (lt5) at (374,422) {2.0};
\node[lg,anchor=west] (lt6) at (374,433) {3.0};
\end{tikzpicture}
\end{document}
